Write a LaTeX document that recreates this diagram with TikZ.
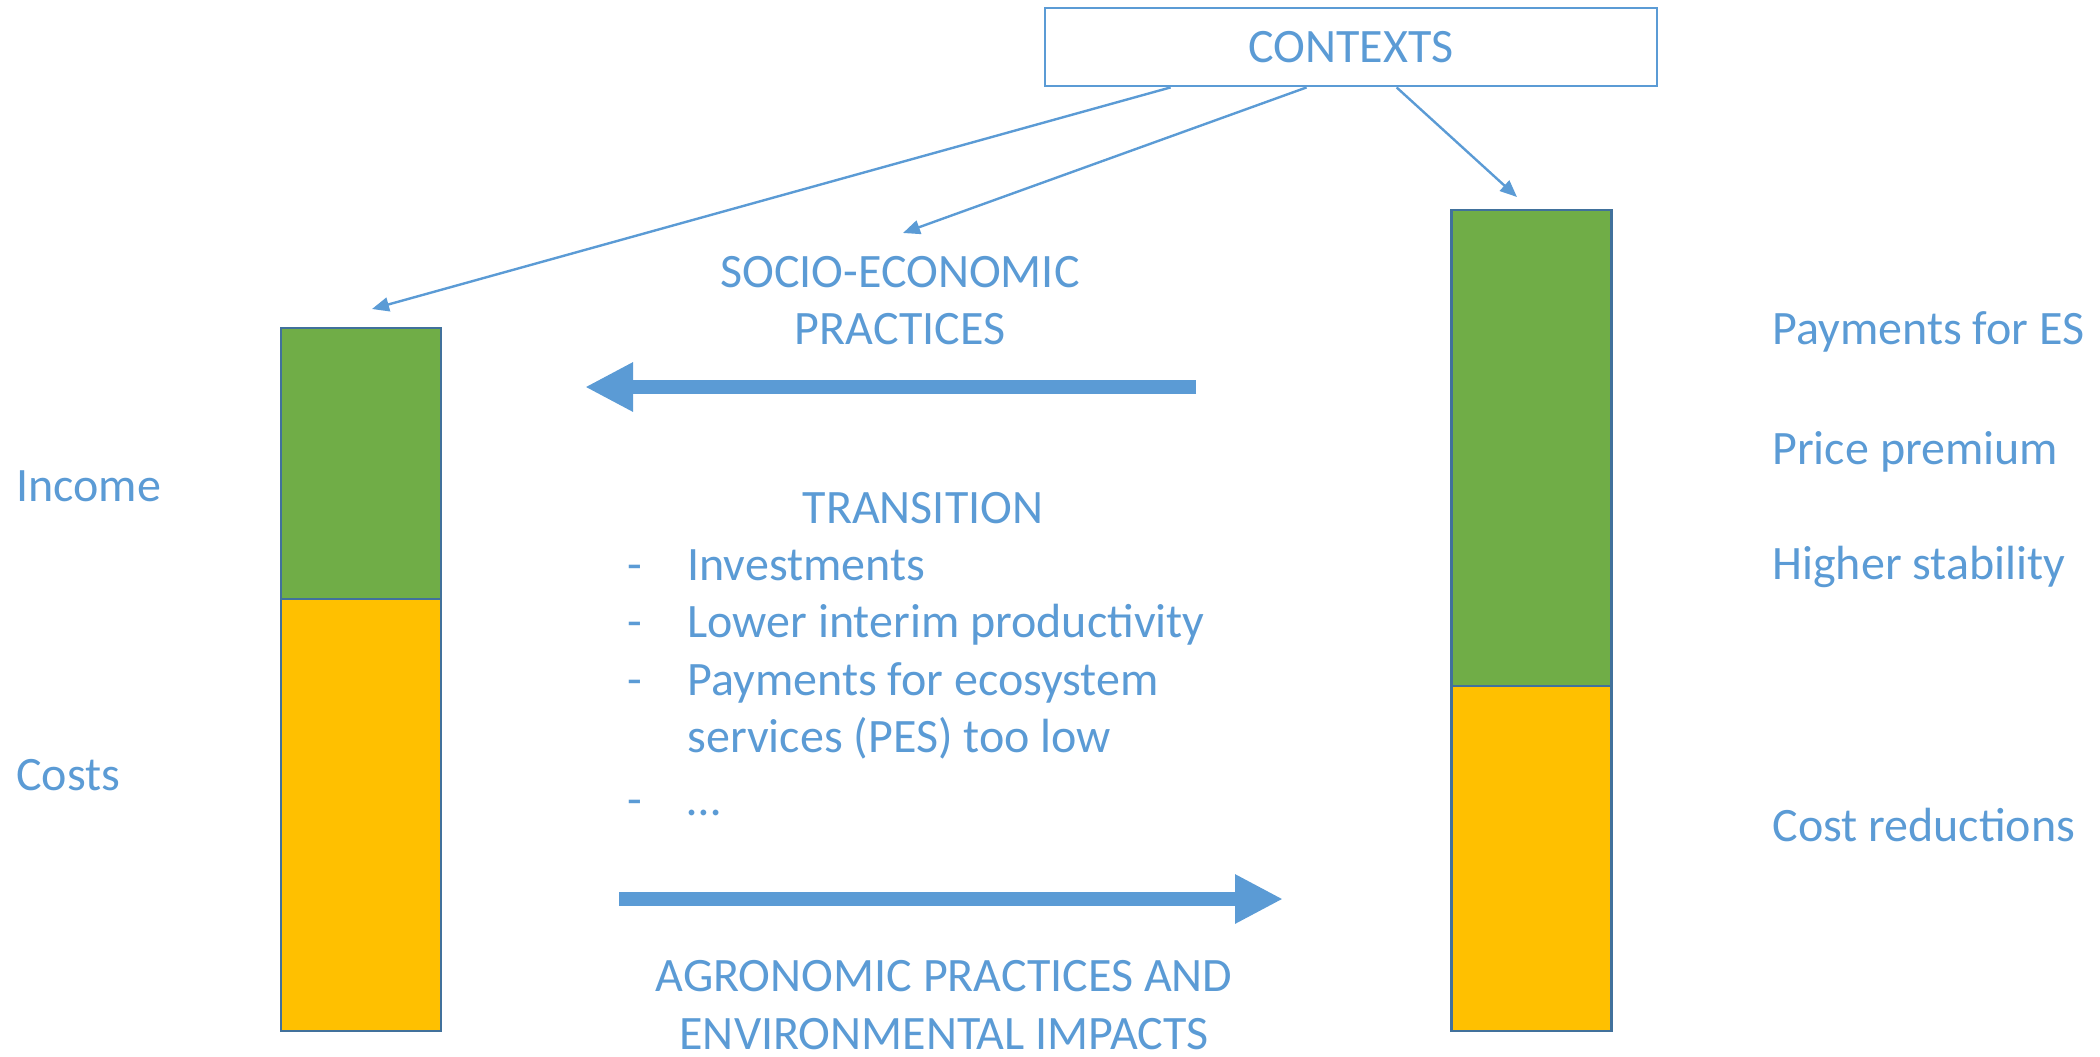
\documentclass[tikz,border=0pt]{standalone}
\usepackage{fontspec}
\setmainfont{Carlito}
\usetikzlibrary{arrows.meta}
\definecolor{txtblue}{HTML}{5B9BD5}
\definecolor{barline}{HTML}{41719C}
\definecolor{incgreen}{HTML}{70AD47}
\definecolor{costorange}{HTML}{FFC000}
\newcommand{\itemdash}{\makebox[30pt][l]{-}}

\begin{document}
\begin{tikzpicture}[x=0.5pt, y=-0.5pt,
        every node/.style={text=txtblue, font=\fontsize{24}{28.75}\selectfont, inner sep=0pt},
        barpart/.style={draw=barline, line width=1.3pt, minimum width=80pt},
        linkarrow/.style={draw=txtblue, line width=1.2pt, -{Triangle[length=8.5pt,width=7pt]}},
        bigarrow/.style={draw=txtblue, line width=7pt, -{Triangle[length=24pt,width=23pt]}}]
            \useasboundingbox (0,0) rectangle (2100,1056);

            % Bars:
            \node[barpart, fill=incgreen, minimum height=135.5pt] (lincome) at (361,463.5) {};
            \node[barpart, fill=costorange, minimum height=216pt] (lcosts) at (361,815) {};
            \node[barpart, fill=incgreen, minimum height=238pt] (rincome) at (1531.5,448) {};
            \node[barpart, fill=costorange, minimum height=172.5pt] (rcosts) at (1531.5,858.5) {};

            % Contexts:
            \node[draw=txtblue, line width=1.4pt, minimum width=306pt, minimum height=39pt] (ctx) at (1351,47) {CONTEXTS};
            \coordinate (lbartip) at (372,309);
            \coordinate (sociotip) at (903,233);
            \coordinate (rbartip) at (1517,197);
            \draw[linkarrow] ([xshift=63.5pt]ctx.south west) -- (lbartip);
            \draw[linkarrow] ([xshift=131.5pt]ctx.south west) -- (sociotip);
            \draw[linkarrow] ([xshift=176.5pt]ctx.south west) -- (rbartip);

            % Side labels:
            \node[anchor=base west] (income) at (16,501) {Income};
            \node[anchor=base west] (costs) at (16,790) {Costs};
            \node[anchor=base west] (pes) at (1772,344) {Payments for ES};
            \node[anchor=base west] (premium) at (1772,464) {Price premium};
            \node[anchor=base west] (stability) at (1772,579) {Higher stability};
            \node[anchor=base west] (reductions) at (1772,841) {Cost reductions};

            % Middle:
            \node[align=center] (socio) at (900,300.5) {SOCIO-ECONOMIC\\PRACTICES};
            \coordinate (socstart) at (1196,387);
            \coordinate (socend) at (585,387);
            \draw[bigarrow] (socstart) -- (socend);

            \node[anchor=base] (transition) at (923,523) {TRANSITION};
            \node[anchor=north west, align=left] (translist) at (627,549)
                {\itemdash Investments\\
                 \itemdash Lower interim productivity\\
                 \itemdash Payments for ecosystem\\
                 \hspace*{30pt}services (PES) too low\\[2.5pt]
                 \itemdash …};

            \coordinate (agrstart) at (619,899);
            \coordinate (agrend) at (1283,899);
            \draw[bigarrow] (agrstart) -- (agrend);
            \node[align=center] (agro) at (944,1005) {AGRONOMIC PRACTICES AND\\ENVIRONMENTAL IMPACTS};
        \end{tikzpicture}
\end{document}
